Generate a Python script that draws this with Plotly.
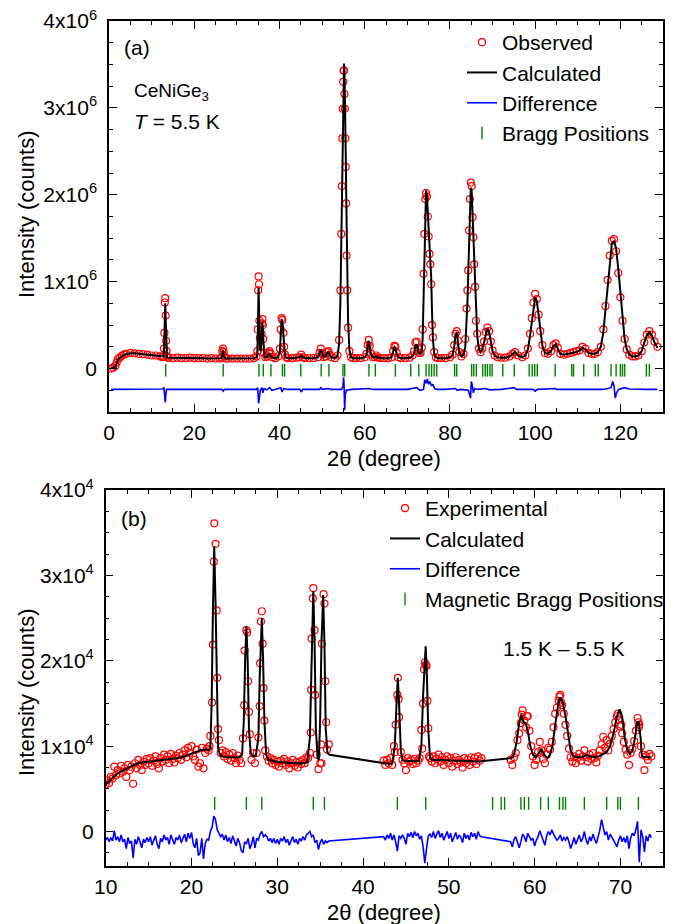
import numpy as np
import plotly.graph_objects as go

FONT = "Arial, Liberation Sans, sans-serif"
PAGE_W, PAGE_H = 678, 924
BODY_MARGIN = 8                      # default page margin around the plot div
W, H = PAGE_W - BODY_MARGIN, PAGE_H - BODY_MARGIN
RED, BLACK, BLUE, GREEN = "#ff0000", "#000000", "#0000ff", "#008000"

# ---------------- panel (a): intensities in units of 1e6 counts ----------------
two_theta_a = [
    0.5, 1.0, 1.5, 1.8, 2.1, 2.5, 3.0, 3.5, 4.0, 5.0, 6.0, 7.0, 8.0, 9.0, 10.0, 11.0, 12.0, 12.5,
    12.8, 12.9, 13.0, 13.1, 13.2, 13.3, 13.4, 13.5, 13.6, 13.8,
    14.0, 15.0, 16.0, 17.0, 18.0, 19.0, 20.0, 21.0, 22.0, 23.0, 24.0, 25.0, 26.0, 26.4,
    26.6, 26.75, 26.9, 27.1, 27.4,
    28.0, 29.0, 30.0, 31.0, 32.0, 33.0, 34.0, 34.6,
    34.8, 34.9, 35.0, 35.1, 35.2, 35.3, 35.4, 35.6, 35.8, 35.9, 36.0, 36.1, 36.2, 36.4, 36.7, 37.1, 37.5, 37.7, 37.9, 38.3,
    39.0, 39.7, 40.1, 40.3, 40.5, 40.7, 40.9, 41.1, 41.3, 41.6, 42.0, 43.0, 44.0,
    44.7, 45.1, 45.5, 46.0, 47.0, 48.0, 49.0, 49.4, 49.7, 50.0, 50.4, 50.8, 51.2, 51.5, 51.8, 52.2, 53.0,
    53.6, 54.0, 54.3, 54.5, 54.65, 54.75, 54.85, 54.95, 55.05, 55.15, 55.25, 55.35, 55.45, 55.55, 55.65, 55.75, 55.9, 56.1, 56.4, 56.8,
    57.3, 58.0, 59.0, 60.0, 60.4, 60.7, 60.95, 61.2, 61.5, 61.9, 62.4, 62.7, 63.0, 63.6, 64.5, 65.5, 66.3, 66.7, 67.0, 67.2,
    67.5, 67.9, 68.5, 69.5, 70.5, 71.2, 71.6, 71.9, 72.2, 72.5, 72.8, 73.1,
    73.4, 73.6, 73.8, 74.0, 74.2, 74.4, 74.6, 74.8, 75.0, 75.2, 75.4, 75.6, 75.8, 76.0, 76.3, 76.7,
    77.2, 78.0, 79.0, 80.0, 80.6, 81.0, 81.3, 81.6, 81.9, 82.2, 82.7, 83.2,
    83.6, 83.9, 84.1, 84.3, 84.5, 84.7, 84.9, 85.1, 85.3, 85.5, 85.7, 85.9, 86.1, 86.4, 86.8, 87.2, 87.6, 88.0, 88.4, 88.8,
    89.2, 89.6, 90.0, 90.5, 91.2,
    92.0, 93.0, 94.0, 94.7, 95.3, 96.0, 97.0, 97.7, 98.3, 98.8, 99.2, 99.6, 100.0, 100.4, 100.8, 101.2, 101.7, 102.3, 103.0, 103.7,
    104.3, 104.8, 105.3, 105.9, 106.7, 107.5, 108.3, 109.0, 109.7, 110.4, 111.1, 111.8, 112.5, 113.3, 114.0, 114.7, 115.4,
    116.0, 116.5, 117.0, 117.5, 118.0, 118.5, 119.0, 119.5, 120.0, 120.5, 121.0, 121.5, 122.1, 122.8, 123.5, 124.2, 125.0, 125.6,
    126.2, 126.8, 127.4, 128.0, 128.7,
]
calculated_a = [
    0.01, 0.01, 0.02, 0.06, 0.10, 0.12, 0.14, 0.155, 0.165, 0.175, 0.175, 0.17, 0.165, 0.16, 0.155, 0.15, 0.14, 0.135,
    0.14, 0.18, 0.33, 0.62, 0.75, 0.57, 0.30, 0.17, 0.13, 0.125,
    0.125, 0.125, 0.12, 0.12, 0.12, 0.12, 0.12, 0.12, 0.12, 0.115, 0.115, 0.115, 0.115, 0.12,
    0.18, 0.21, 0.17, 0.13, 0.115,
    0.115, 0.115, 0.115, 0.115, 0.115, 0.115, 0.12, 0.13,
    0.16, 0.35, 0.75, 0.93, 0.72, 0.42, 0.25, 0.20, 0.33, 0.47, 0.53, 0.45, 0.30, 0.16, 0.125, 0.13, 0.16, 0.17, 0.15, 0.125,
    0.12, 0.13, 0.20, 0.42, 0.57, 0.53, 0.36, 0.21, 0.15, 0.125, 0.12, 0.12, 0.125,
    0.13, 0.15, 0.13, 0.12, 0.12, 0.12, 0.13, 0.17, 0.22, 0.17, 0.13, 0.14, 0.18, 0.19, 0.15, 0.13, 0.12,
    0.14, 0.29, 0.78, 1.42, 2.05, 2.48, 2.88, 3.22, 3.44, 3.51, 3.44, 3.22, 2.88, 2.48, 2.05, 1.62, 1.07, 0.56, 0.22, 0.13,
    0.12, 0.12, 0.12, 0.13, 0.16, 0.25, 0.32, 0.25, 0.16, 0.13, 0.13, 0.145, 0.13, 0.12, 0.12, 0.12, 0.13, 0.19, 0.25, 0.24,
    0.17, 0.13, 0.12, 0.12, 0.125, 0.14, 0.18, 0.26, 0.28, 0.21, 0.17, 0.17,
    0.20, 0.35, 0.80, 1.35, 1.80, 2.05, 2.00, 1.80, 1.60, 1.45, 1.30, 1.05, 0.65, 0.35, 0.17, 0.13,
    0.12, 0.12, 0.12, 0.13, 0.15, 0.25, 0.38, 0.42, 0.30, 0.18, 0.14, 0.16,
    0.25, 0.50, 0.75, 1.10, 1.55, 1.90, 2.08, 2.05, 1.80, 1.50, 1.20, 0.92, 0.65, 0.38, 0.22, 0.19, 0.22, 0.30, 0.40, 0.46,
    0.42, 0.30, 0.20, 0.15, 0.13,
    0.125, 0.125, 0.14, 0.17, 0.19, 0.15, 0.13, 0.15, 0.22, 0.38, 0.55, 0.72, 0.82, 0.78, 0.60, 0.42, 0.26, 0.18, 0.17, 0.20,
    0.26, 0.28, 0.23, 0.17, 0.16, 0.17, 0.18, 0.19, 0.19, 0.21, 0.24, 0.22, 0.18, 0.17, 0.17, 0.19, 0.25,
    0.42, 0.68, 0.98, 1.26, 1.44, 1.47, 1.38, 1.15, 0.85, 0.56, 0.34, 0.22, 0.16, 0.14, 0.14, 0.15, 0.20, 0.30,
    0.38, 0.42, 0.38, 0.30, 0.24,
]
observed_a = [
    0.00, 0.01, 0.03, 0.07, 0.11, 0.125, 0.145, 0.16, 0.17, 0.18, 0.175, 0.17, 0.165, 0.16, 0.15, 0.15, 0.14, 0.13,
    0.14, 0.23, 0.41, 0.76, 0.81, 0.61, 0.32, 0.20, 0.14, 0.125,
    0.125, 0.12, 0.125, 0.12, 0.12, 0.125, 0.12, 0.12, 0.12, 0.115, 0.12, 0.115, 0.115, 0.13,
    0.20, 0.23, 0.19, 0.14, 0.115,
    0.115, 0.115, 0.115, 0.115, 0.115, 0.115, 0.12, 0.14,
    0.20, 0.45, 0.90, 1.06, 0.97, 0.55, 0.35, 0.25, 0.40, 0.52, 0.57, 0.50, 0.34, 0.18, 0.13, 0.14, 0.18, 0.20, 0.17, 0.13,
    0.12, 0.14, 0.23, 0.45, 0.58, 0.56, 0.41, 0.25, 0.16, 0.13, 0.12, 0.12, 0.125,
    0.13, 0.16, 0.13, 0.12, 0.12, 0.12, 0.13, 0.18, 0.23, 0.18, 0.13, 0.14, 0.19, 0.20, 0.16, 0.13, 0.12,
    0.15, 0.33, 0.90, 1.55, 2.10, 2.65, 2.99, 3.30, 3.43, 3.43, 3.16, 2.99, 2.65, 2.32, 1.90, 1.30, 0.90, 0.47, 0.20, 0.13,
    0.12, 0.12, 0.12, 0.13, 0.17, 0.27, 0.33, 0.26, 0.17, 0.13, 0.13, 0.15, 0.13, 0.12, 0.12, 0.12, 0.13, 0.20, 0.26, 0.25,
    0.18, 0.13, 0.12, 0.12, 0.125, 0.15, 0.20, 0.30, 0.31, 0.23, 0.18, 0.18,
    0.24, 0.45, 1.09, 1.55, 1.95, 2.02, 1.98, 1.75, 1.52, 1.32, 1.20, 0.97, 0.50, 0.36, 0.19, 0.13,
    0.12, 0.12, 0.12, 0.13, 0.16, 0.27, 0.40, 0.43, 0.32, 0.19, 0.14, 0.17,
    0.34, 0.69, 0.90, 1.13, 1.59, 1.95, 2.14, 2.10, 1.74, 1.51, 1.20, 0.94, 0.55, 0.40, 0.23, 0.19, 0.23, 0.31, 0.42, 0.47,
    0.43, 0.31, 0.21, 0.15, 0.13,
    0.125, 0.125, 0.14, 0.17, 0.19, 0.15, 0.13, 0.15, 0.23, 0.40, 0.58, 0.76, 0.86, 0.80, 0.62, 0.43, 0.27, 0.18, 0.17, 0.20,
    0.27, 0.29, 0.24, 0.17, 0.16, 0.17, 0.18, 0.19, 0.20, 0.21, 0.25, 0.23, 0.18, 0.17, 0.17, 0.19, 0.25,
    0.45, 0.72, 1.02, 1.30, 1.47, 1.49, 1.35, 1.10, 0.82, 0.55, 0.34, 0.22, 0.16, 0.14, 0.14, 0.15, 0.20, 0.30,
    0.39, 0.43, 0.39, 0.31, 0.25,
]
diff_theta_a = [
    0.5, 5, 10, 12.5, 12.9, 13.1, 13.2, 13.3, 13.5, 20,
    26.5, 26.8, 27.1, 30, 34.7, 34.9, 35.1, 35.25, 35.5, 35.9,
    36.1, 36.4, 37.0, 37.7, 38.2, 39, 40.3, 40.6, 41.0, 42,
    44.8, 45.1, 45.5, 49.4, 49.7, 50.1, 51.5, 52, 54.6, 54.9,
    55.05, 55.15, 55.3, 55.45, 55.7, 57, 61, 62, 67, 70,
    72.2, 73, 73.8, 74.1, 74.4, 74.7, 75.0, 75.3, 75.7, 76.0,
    76.4, 77, 79, 81.3, 81.7, 82.5, 84.3, 84.6, 84.85, 85.0,
    85.2, 85.5, 85.8, 86.5, 88.5, 89.2, 92, 95, 95.6, 99.5,
    100, 100.5, 104.7, 105, 110, 116, 117.8, 118.2, 118.5, 118.8,
    119.1, 119.6, 121, 122, 126, 128.7,
]
difference_a = [
    -0.24, -0.24, -0.24, -0.235, -0.225, -0.30, -0.39, -0.32, -0.24, -0.24,
    -0.24, -0.26, -0.24, -0.24, -0.24, -0.22, -0.40, -0.35, -0.25, -0.22,
    -0.28, -0.23, -0.245, -0.22, -0.25, -0.24, -0.22, -0.27, -0.23, -0.24,
    -0.24, -0.27, -0.24, -0.24, -0.22, -0.24, -0.23, -0.24, -0.24, -0.20,
    -0.10, -0.18, -0.48, -0.30, -0.25, -0.24, -0.23, -0.24, -0.245, -0.24,
    -0.22, -0.25, -0.24, -0.13, -0.17, -0.12, -0.18, -0.15, -0.20, -0.18,
    -0.23, -0.24, -0.24, -0.23, -0.25, -0.24, -0.25, -0.30, -0.34, -0.15,
    -0.18, -0.28, -0.23, -0.24, -0.23, -0.245, -0.24, -0.22, -0.24, -0.24,
    -0.26, -0.24, -0.23, -0.24, -0.24, -0.24, -0.22, -0.15, -0.20, -0.34,
    -0.28, -0.24, -0.22, -0.235, -0.24, -0.24,
]
bragg_a = [
    13.3, 26.8, 35.2, 36.2, 38.0, 40.7, 41.2, 45.0, 49.8, 51.6, 54.9, 55.3, 61.0, 62.5, 67.2, 70.8, 72.7,
    74.4, 75.1, 75.7, 76.3, 76.9, 81.1, 81.6, 85.1, 85.6, 86.2, 87.7, 88.3, 88.8, 89.4, 89.9, 92.4, 95.1,
    98.6, 99.3, 99.9, 100.5, 104.7, 108.6, 109.0, 111.4, 114.1, 114.8, 117.8, 119.0, 120.0, 120.5, 121.0,
    126.1, 126.8,
]
BRAGG_LEVEL_A = -0.02
UNIT_A = 1e6

# ---------------- panel (b): intensities in units of 1e4 counts ----------------
obs_b_start = [10.0, 42.4, 57.2]   # first 2theta of each measured segment, step 0.2
OBS_STEP_B = 0.2
observed_b_seg1 = [
    0.55, 0.60, 0.57, 0.64, 0.62, 0.76, 0.66, 0.72, 0.68, 0.77,
    0.70, 0.74, 0.64, 0.78, 0.72, 0.76, 0.56, 0.80, 0.74, 0.84,
    0.78, 0.72, 0.82, 0.78, 0.85, 0.80, 0.86, 0.77, 0.83, 0.88,
    0.79, 0.74, 0.86, 0.82, 0.90, 0.84, 0.88, 0.80, 0.91, 0.85,
    0.81, 0.89, 0.86, 0.92, 0.84, 0.90, 0.95, 0.87, 0.98, 0.92,
    1.00, 0.88, 0.84, 0.96, 0.76, 0.80, 0.98, 0.74, 0.92, 0.97,
    0.95, 1.12, 1.51, 3.16, 3.37, 1.80, 1.07, 0.92, 0.95, 0.88,
    0.93, 0.85, 0.90, 0.83, 0.92, 0.86, 0.80, 0.89, 0.84, 0.80,
    1.09, 2.12, 2.36, 1.76, 1.14, 0.84, 0.92, 0.80, 0.92, 1.10,
    1.97, 2.58, 1.68, 0.95, 0.88, 0.83, 0.86, 0.80, 0.84, 0.78,
    0.82, 0.76, 0.83, 0.80, 0.85, 0.78, 0.82, 0.74, 0.80, 0.84,
    0.77, 0.81, 0.75, 0.82, 0.79, 0.84, 0.80, 0.87, 0.86, 0.92,
    2.26, 2.85, 1.60, 0.90, 0.73, 0.80, 2.20, 2.78, 1.76, 0.96,
    1.02,
]
observed_b_seg2 = [
    0.83, 0.78, 0.84, 0.80, 0.86, 0.78, 1.00, 1.25, 1.60, 1.34,
    0.93, 0.84, 0.80, 0.72, 0.86, 0.82, 0.84, 0.79, 0.85, 0.80,
    0.83, 0.86, 1.19, 1.50, 1.98, 1.94, 1.21, 0.86, 0.82, 0.88,
    0.80, 0.85, 0.90, 0.82, 0.87, 0.78, 0.84, 0.88, 0.80, 0.86,
    0.76, 0.83, 0.87, 0.79, 0.84, 0.81, 0.75, 0.86, 0.80, 0.84,
    0.78, 0.87, 0.82, 0.86, 0.79, 0.88, 0.83, 0.86,
]
observed_b_seg3 = [
    0.84, 0.78, 0.87, 0.92, 1.07, 1.15, 1.27, 1.42, 1.30, 1.22,
    1.35, 1.18, 1.00, 0.88, 0.78, 0.84, 0.93, 1.05, 0.95, 0.85,
    0.80, 0.90, 0.98, 0.96, 1.05, 1.22, 1.38, 1.45, 1.53, 1.60,
    1.48, 1.38, 1.25, 1.12, 0.97, 0.87, 0.82, 0.88, 0.80, 0.86,
    0.91, 0.83, 0.88, 0.95, 0.87, 0.82, 0.90, 0.85, 0.92, 0.86,
    0.81, 0.89, 0.95, 1.02, 1.11, 0.98, 1.07, 0.95, 1.03, 1.12,
    1.20, 1.28, 1.35, 1.31, 1.23, 1.15, 1.05, 0.96, 0.90, 0.78,
    0.92, 0.97, 1.06, 1.18, 1.33, 1.25, 1.00, 0.90, 0.72, 0.88,
    0.84, 0.91, 0.88,
]
difference_b_seg1 = [
    -0.10, -0.07, -0.12, -0.07, -0.11, 0.01, -0.10, -0.06, -0.12, -0.04,
    -0.12, -0.09, -0.20, -0.07, -0.14, -0.11, -0.31, -0.09, -0.15, -0.06,
    -0.12, -0.19, -0.09, -0.13, -0.07, -0.12, -0.06, -0.16, -0.10, -0.05,
    -0.15, -0.20, -0.08, -0.12, -0.04, -0.10, -0.07, -0.15, -0.04, -0.10,
    -0.15, -0.07, -0.10, -0.04, -0.13, -0.08, -0.03, -0.12, -0.02, -0.08,
    -0.01, -0.14, -0.19, -0.08, -0.28, -0.25, -0.08, -0.32, -0.14, -0.09,
    -0.10, 0.00, 0.05, 0.18, 0.14, 0.02, -0.02, -0.06, -0.03, -0.10,
    -0.04, -0.12, -0.07, -0.14, -0.05, -0.11, -0.17, -0.08, -0.13, -0.22,
    -0.25, -0.12, -0.14, -0.08, -0.20, -0.15, -0.06, -0.19, -0.08, -0.10,
    -0.03, 0.00, -0.06, -0.04, -0.06, -0.11, -0.08, -0.13, -0.08, -0.14,
    -0.09, -0.15, -0.08, -0.11, -0.06, -0.13, -0.09, -0.16, -0.10, -0.06,
    -0.13, -0.09, -0.15, -0.08, -0.11, -0.06, -0.10, -0.04, -0.02, 0.00,
    -0.06, -0.04, -0.13, -0.10, -0.21, -0.13, -0.09, -0.15, -0.11, -0.13,
    -0.11,
]
difference_b_seg2 = [
    -0.06, -0.10, -0.04, -0.08, -0.02, -0.10, -0.04, -0.12, -0.23, -0.05,
    -0.08, -0.04, -0.08, -0.15, -0.02, -0.06, -0.01, -0.07, 0.00, -0.05,
    -0.02, -0.09, -0.05, -0.18, -0.37, -0.20, -0.05, -0.03, -0.07, 0.00,
    -0.08, -0.03, 0.01, -0.07, -0.02, -0.10, -0.04, 0.00, -0.08, -0.02,
    -0.12, -0.05, -0.01, -0.09, -0.04, -0.07, -0.13, -0.02, -0.08, -0.04,
    -0.10, -0.01, -0.06, -0.02, -0.09, 0.00, -0.05, -0.06,
]
difference_b_seg3 = [
    -0.12, -0.18, -0.09, -0.06, -0.14, -0.19, -0.12, -0.03, -0.06, -0.12,
    -0.02, -0.07, -0.10, -0.08, -0.17, -0.10, -0.06, 0.01, -0.05, -0.09,
    -0.16, -0.05, 0.00, -0.04, 0.02, -0.03, -0.06, -0.10, -0.08, -0.04,
    -0.11, -0.07, -0.10, -0.06, -0.12, -0.20, -0.14, -0.07, -0.15, -0.09,
    -0.04, -0.12, -0.08, 0.00, -0.10, -0.15, -0.06, -0.11, -0.03, -0.09,
    -0.14, -0.06, 0.02, 0.14, 0.06, -0.04, 0.00, -0.10, -0.03, -0.06,
    -0.10, -0.14, -0.18, -0.10, -0.05, -0.12, -0.07, -0.13, -0.05, -0.20,
    -0.07, -0.02, -0.05, 0.02, 0.12, -0.36, 0.02, -0.06, -0.24, -0.05,
    -0.11, -0.03, -0.07,
]
# additional observed points on the steep peak flanks (measured finer than the grid)
peak_obs_x_b = [22.1, 22.5, 22.66, 22.93, 23.1, 26.15, 26.5, 26.7, 27.95, 28.1, 28.3, 28.5,
                33.9, 33.95, 34.15, 34.35, 35.1, 35.15, 35.5, 35.7, 43.7, 44.05, 44.15, 46.9,
                47.1, 47.3, 47.5, 47.7, 58.5, 59.1, 62.9, 63.1, 69.7, 70.1, 72.1, 72.15]
peak_obs_y_b = [1.00, 2.19, 3.61, 2.59, 1.20, 1.48, 2.33, 1.40, 1.47, 2.46, 2.20, 1.30,
                1.16, 1.66, 2.73, 2.36, 1.02, 0.80, 2.67, 1.28, 0.93, 1.80, 1.55, 0.97,
                1.90, 1.95, 1.53, 0.88, 1.37, 1.35, 1.58, 1.51, 1.38, 1.25, 1.28, 1.22]
calc_theta_b = [
    10.0, 10.5, 11.0, 11.7, 12.5, 13.3, 14.0, 15.0, 16.0, 17.0,
    18.0, 18.7, 19.3, 20.0, 20.6, 21.1, 21.6, 22.0, 22.2, 22.35,
    22.5, 22.65, 22.8, 22.95, 23.1, 23.3, 23.6, 24.5, 25.5, 25.9,
    26.1, 26.25, 26.4, 26.55, 26.7, 26.9, 27.2, 27.5, 27.8, 27.95,
    28.1, 28.2, 28.35, 28.5, 28.7, 29.0, 30.0, 31.0, 32.0, 33.0,
    33.5, 33.8, 33.95, 34.1, 34.2, 34.35, 34.5, 34.7, 34.85, 35.0,
    35.15, 35.35, 35.5, 35.65, 35.85, 36.1, 43.1, 43.4, 43.7, 43.9,
    44.05, 44.2, 44.4, 44.6, 45.5, 46.5, 46.8, 47.0, 47.2, 47.3,
    47.45, 47.6, 47.8, 48.0, 53.5, 57.3, 57.6, 57.9, 58.2, 58.45,
    58.7, 58.95, 59.2, 59.5, 59.8, 60.1, 60.5, 60.8, 61.1, 61.5,
    61.8, 62.1, 62.4, 62.8, 63.0, 63.3, 63.6, 63.9, 64.2, 64.5,
    65.0, 65.6, 66.0, 66.4, 67.0, 67.5, 68.0, 68.4, 68.8, 69.2,
    69.6, 69.9, 70.2, 70.5, 70.8, 71.1, 71.4, 71.7, 71.95, 72.15,
    72.35, 72.5, 73.0, 73.5,
]
calculated_b = [
    0.55, 0.60, 0.65, 0.70, 0.745, 0.78, 0.805, 0.82, 0.835, 0.845,
    0.855, 0.865, 0.885, 0.91, 0.935, 0.955, 0.96, 0.955, 0.98, 1.5,
    2.6, 3.34, 2.7, 1.5, 0.98, 0.90, 0.88, 0.87, 0.87, 0.90,
    1.3, 2.0, 2.4, 2.0, 1.2, 0.92, 0.88, 0.89, 1.1, 1.8,
    2.4, 2.5, 2.0, 1.3, 0.90, 0.84, 0.815, 0.805, 0.80, 0.80,
    0.81, 1.1, 1.9, 2.6, 2.82, 2.2, 1.2, 0.86, 0.84, 1.3,
    2.2, 2.77, 2.2, 1.2, 0.92, 0.90, 0.79, 0.80, 1.0, 1.5,
    1.8, 1.5, 0.95, 0.83, 0.825, 0.83, 1.0, 1.6, 2.1, 2.17,
    1.8, 1.2, 0.87, 0.84, 0.82, 0.86, 0.90, 1.05, 1.27, 1.37,
    1.28, 1.27, 1.18, 1.0, 0.90, 0.87, 0.92, 0.97, 0.90, 0.86,
    0.90, 1.02, 1.25, 1.52, 1.57, 1.50, 1.35, 1.15, 0.95, 0.88,
    0.87, 0.87, 0.90, 0.88, 0.87, 0.88, 0.91, 0.93, 1.0, 1.15,
    1.35, 1.43, 1.35, 1.1, 0.95, 0.91, 0.95, 1.1, 1.28, 1.28,
    1.1, 0.88, 0.87, 0.87,
]
bragg_b = [22.7, 26.4, 28.2, 34.2, 35.5, 44.0, 47.3, 55.1, 56.1, 56.5, 58.4, 58.8, 59.3,
           60.7, 61.6, 62.9, 63.3, 63.6, 65.8, 68.4, 69.7, 70.0, 72.1]
BRAGG_LEVEL_B = 0.33
UNIT_B = 1e4

assert len(two_theta_a) == len(calculated_a) == len(observed_a)
assert len(diff_theta_a) == len(difference_a)
assert len(calc_theta_b) == len(calculated_b)
assert len(peak_obs_x_b) == len(peak_obs_y_b)
segs_obs = [observed_b_seg1, observed_b_seg2, observed_b_seg3]
segs_diff = [difference_b_seg1, difference_b_seg2, difference_b_seg3]
for o, d in zip(segs_obs, segs_diff):
    assert len(o) == len(d), (len(o), len(d))

grid_b = np.concatenate([np.round(s + OBS_STEP_B * np.arange(len(o)), 2)
                         for s, o in zip(obs_b_start, segs_obs)])
obs_b = np.concatenate([np.array(o) for o in segs_obs])
diff_b = np.concatenate([np.array(d) for d in segs_diff])

# ---------------- figure ----------------
fig = go.Figure()
obs_marker = dict(symbol="circle-open", size=7, color=RED, line=dict(width=1.2, color=RED))
bragg_marker = dict(symbol="line-ns", size=9, color=GREEN, line=dict(width=1.4, color=GREEN))

fig.add_trace(go.Scatter(x=two_theta_a, y=np.array(observed_a) * UNIT_A, mode="markers", name="Observed",
                         marker=obs_marker, xaxis="x", yaxis="y", legend="legend"))
fig.add_trace(go.Scatter(x=two_theta_a, y=np.array(calculated_a) * UNIT_A, mode="lines", name="Calculated",
                         line=dict(color=BLACK, width=2), xaxis="x", yaxis="y", legend="legend"))
fig.add_trace(go.Scatter(x=diff_theta_a, y=np.array(difference_a) * UNIT_A, mode="lines", name="Difference",
                         line=dict(color=BLUE, width=1.6), xaxis="x", yaxis="y", legend="legend"))
fig.add_trace(go.Scatter(x=bragg_a, y=[BRAGG_LEVEL_A * UNIT_A] * len(bragg_a), mode="markers",
                         name="Bragg Positions", marker=bragg_marker, xaxis="x", yaxis="y", legend="legend"))

fig.add_trace(go.Scatter(x=np.concatenate([grid_b, peak_obs_x_b]),
                         y=np.concatenate([obs_b, peak_obs_y_b]) * UNIT_B, mode="markers",
                         name="Experimental", marker=obs_marker, xaxis="x2", yaxis="y2", legend="legend2"))
fig.add_trace(go.Scatter(x=calc_theta_b, y=np.array(calculated_b) * UNIT_B, mode="lines", name="Calculated",
                         line=dict(color=BLACK, width=2), xaxis="x2", yaxis="y2", legend="legend2"))
fig.add_trace(go.Scatter(x=grid_b, y=diff_b * UNIT_B, mode="lines", name="Difference",
                         line=dict(color=BLUE, width=1.6), xaxis="x2", yaxis="y2", legend="legend2"))
fig.add_trace(go.Scatter(x=bragg_b, y=[BRAGG_LEVEL_B * UNIT_B] * len(bragg_b), mode="markers",
                         name="Magnetic Bragg Positions", marker=bragg_marker, xaxis="x2", yaxis="y2",
                         legend="legend2"))

tick_font = dict(family=FONT, size=21, color="black")
common = dict(showline=True, linecolor="black", linewidth=1.5, mirror="ticks", ticks="inside",
              ticklen=8, tickwidth=1.3, tickcolor="black", showgrid=False, zeroline=False,
              tickfont=tick_font, automargin=False, ticklabeloverflow="allow")


def px_x(p):
    """page pixel (reference picture) -> paper fraction of the figure"""
    return (p - BODY_MARGIN) / W


def px_y(p):
    return 1 - (p - BODY_MARGIN) / H


fig.update_layout(
    width=W, height=H, margin=dict(l=0, r=0, t=0, b=0),
    paper_bgcolor="white", plot_bgcolor="white",
    font=dict(family=FONT, color="black"),
    xaxis=dict(common, domain=[px_x(109), px_x(663)], range=[0, 130], tickmode="linear", tick0=0, dtick=20,
               anchor="y", ticklabelstandoff=1,
               minor=dict(ticks="inside", ticklen=4, tickwidth=1.1, tickcolor="black", tick0=0, dtick=5)),
    yaxis=dict(common, domain=[px_y(412), px_y(21)], range=[-5e5, 4e6], anchor="x",
               tickmode="array", tickvals=[0, 1e6, 2e6, 3e6, 4e6],
               ticktext=["0", "1x10<sup>6</sup>", "2x10<sup>6</sup>", "3x10<sup>6</sup>", "4x10<sup>6</sup>"],
               ticklabelstandoff=6,
               minor=dict(ticks="inside", ticklen=4, tickwidth=1.1, tickcolor="black",
                          tickmode="array", tickvals=list(np.arange(-2.5e5, 4e6 + 1, 2.5e5)))),
    xaxis2=dict(common, domain=[px_x(105.7), px_x(663.3)], range=[10, 75], tickmode="linear", tick0=10,
                dtick=10, anchor="y2", ticklabelstandoff=1,
                minor=dict(ticks="inside", ticklen=4, tickwidth=1.1, tickcolor="black", tick0=10, dtick=2.5)),
    yaxis2=dict(common, domain=[px_y(865.7), px_y(490)], range=[-4000, 40000], anchor="x2",
                tickmode="array", tickvals=[0, 1e4, 2e4, 3e4, 4e4],
                ticktext=["0", "1x10<sup>4</sup>", "2x10<sup>4</sup>", "3x10<sup>4</sup>", "4x10<sup>4</sup>"],
                ticklabelstandoff=6,
                minor=dict(ticks="inside", ticklen=4, tickwidth=1.1, tickcolor="black",
                           tickmode="array", tickvals=list(np.arange(-2500, 40001, 2500)))),
    legend=dict(x=px_x(462), y=px_y(22), xanchor="left", yanchor="top", bgcolor="rgba(0,0,0,0)",
                font=dict(family=FONT, size=21, color="black"), tracegroupgap=0, itemclick=False),
    legend2=dict(x=px_x(385), y=px_y(488), xanchor="left", yanchor="top", bgcolor="rgba(0,0,0,0)",
                 font=dict(family=FONT, size=21, color="black"), tracegroupgap=0, itemclick=False),
    showlegend=True,
)

ann_font = dict(family=FONT, size=21, color="black")
annotations = [
    dict(text="(a)", x=px_x(137), y=px_y(48), xanchor="center", yanchor="middle", font=ann_font),
    dict(text="CeNiGe<sub>3</sub>", x=px_x(132), y=px_y(92), xanchor="left", yanchor="middle",
         font=dict(family=FONT, size=19, color="black")),
    dict(text="<i>T</i> = 5.5 K", x=px_x(132), y=px_y(121), xanchor="left", yanchor="middle", font=ann_font),
    dict(text="(b)", x=px_x(134), y=px_y(518), xanchor="center", yanchor="middle", font=ann_font),
    dict(text="1.5 K \u2013 5.5 K", x=px_x(563), y=px_y(648), xanchor="center", yanchor="middle", font=ann_font),
    dict(text="Intensity (counts)", x=px_x(26), y=px_y(214), xanchor="center", yanchor="middle",
         textangle=-90, font=dict(family=FONT, size=22, color="black")),
    dict(text="Intensity (counts)", x=px_x(26), y=px_y(692), xanchor="center", yanchor="middle",
         textangle=-90, font=dict(family=FONT, size=22, color="black")),
    dict(text="2\u03b8 (degree)", x=px_x(384), y=px_y(459), xanchor="center", yanchor="middle",
         font=dict(family=FONT, size=22, color="black")),
    dict(text="2\u03b8 (degree)", x=px_x(384), y=px_y(912), xanchor="center", yanchor="middle",
         font=dict(family=FONT, size=22, color="black")),
]
for a in annotations:
    a.update(xref="paper", yref="paper", showarrow=False)
fig.update_layout(annotations=annotations)

fig.write_html("out.html")
